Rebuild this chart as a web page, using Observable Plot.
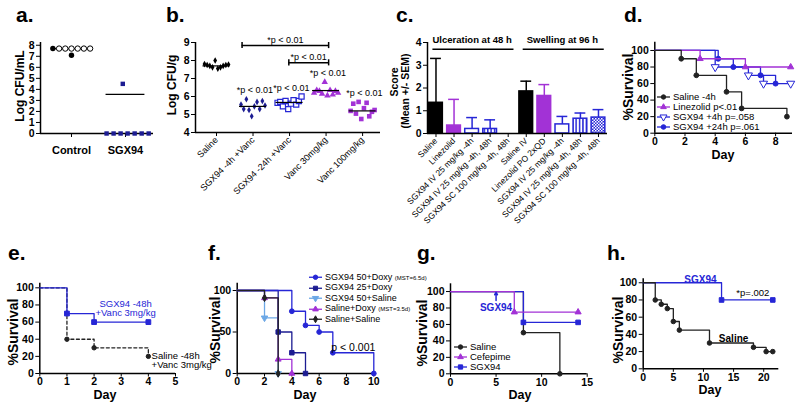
<!DOCTYPE html>
<html><head><meta charset="utf-8">
<script src="https://cdn.jsdelivr.net/npm/d3@7"></script>
<script src="https://cdn.jsdelivr.net/npm/@observablehq/plot@0.6"></script>
<style>
body{margin:0;background:#fff;}
#root{position:relative;width:800px;height:404px;overflow:hidden;background:#fff;font-family:'Liberation Sans',Arial,Helvetica,sans-serif;color:#000;}
.lbl{position:absolute;white-space:nowrap;line-height:1;}
</style></head><body><div id="root"></div>
<script>
// ---------------- DATA ----------------
// a.
const aGroups = ["Control", "SGX94"];
const aControl = [7.7, 7.7, 7.7, 7.7, 7.7, 7.7, 7.7, 7.1];
const aSGX94 = [0, 0, 0, 0, 0, 0, 0, 4.5];
const aLines = [7.7, 3.55];
// b.
const bGroups = ["Saline", "SGX94 -4h +Vanc", "SGX94 -24h +Vanc", "Vanc 30mg/kg", "Vanc 100mg/kg"];
const bSaline = [7.8, 7.75, 7.7, 7.62, 8.0, 7.55, 7.62, 7.7, 7.75, 7.78];
const bSgx4 = [5.55, 5.3, 5.85, 5.25, 4.9, 5.45, 5.7, 5.3, 5.75, 5.5];
const bSgx24 = [5.65, 5.7, 5.45, 5.75, 5.3, 5.6, 5.8, 5.55, 5.75, 6.0];
const bVanc30 = [6.2, 6.35, 6.3, 6.15, 6.8, 6.05, 6.35, 6.1, 6.3, 6.2];
const bVanc100 = [5.2, 5.6, 5.05, 5.7, 4.75, 5.35, 5.65, 4.9, 5.15, 5.25];
const bMedians = [7.7, 5.45, 5.67, 6.33, 5.2];
const bSigY = [null, 6.33, 6.48, 7.3, 6.18];
const bBrackets = [[0.7, 3.07, 8.83], [1.98, 3.07, 7.87]];
const bSigText = "*p < 0.01";
// c.
const cLabels = ["Saline", "Linezolid", "SGX94 IV 25 mg/kg -4h", "SGX94 IV 25 mg/kg -4h, 48h", "SGX94 SC 100 mg/kg -4h, 48h",
  "Saline IV", "Linezolid PO 2xQD", "SGX94 IV 25 mg/kg -4h", "SGX94 IV 25 mg/kg -4h, 48h", "SGX94 SC 100 mg/kg -4h, 48h"];
const cMean = [1.35, 0.35, 0.2, 0.2, 0, 1.85, 1.65, 0.4, 0.65, 0.7];
const cSEM = [1.95, 1.15, 0.5, 0.4, 0, 0.45, 0.5, 0.35, 0.25, 0.35];
const cSections = [["Ulceration at 48 h", 0, 4], ["Swelling at 96 h", 5, 9]];
// d.
const dSaline = [[0, 100], [1.75, 90], [2.75, 70], [4.75, 50], [5.75, 30], [8.75, 20]];
const dLinezolid = [[0, 100], [3, 90], [6, 80], [9, 80]];
const dSgx4 = [[0, 100], [4, 80], [6.2, 70], [7.2, 60], [9, 60]];
const dSgx24 = [[0, 100], [4.2, 90], [5.2, 80], [7, 70], [8, 60]];
const dNames = ["Saline -4h", "Linezolid p<.01", "SGX94 +4h p=.058", "SGX94 +24h p=.061"];
// e.
const eSgx = [[0, 100], [1, 70], [2, 60], [4, 60]];
const eSaline = [[0, 100], [1, 40], [2, 30], [4, 20]];
const eNotes = [["SGX94 -48h\n+Vanc 3mg/kg", 3.16, 76], ["Saline -48h\n+Vanc 3mg/kg", 4.12, 15.5]];
// f.
const fSgx50Doxy = [[0, 100], [4, 75], [5, 58], [6, 50], [7, 25], [10, 0]];
const fSgx25Doxy = [[0, 100], [3, 50], [4, 25], [5, 0]];
const fSgx50Saline = [[0, 100], [2, 67], [3, 0]];
const fSalineDoxy = [[0, 100], [2, 91], [3, 17], [4, 0]];
const fSalineSaline = [[0, 100], [2, 91], [3, 0]];
const fNames = ["SGX94 50+Doxy <span style='font-size:6px'>(MST=6.5d)</span>", "SGX94 25+Doxy", "SGX94 50+Saline",
  "Saline+Doxy <span style='font-size:6px'>(MST=3.5d)</span>", "Saline+Saline"];
const fNote = ["p < 0.001", 8.5, 31];
// g.
const gSaline = [[0, 100], [8, 50], [12, 0]];
const gCefepime = [[0, 100], [7, 75], [14, 75]];
const gSgx = [[0, 100], [8, 62.5], [14, 62.5]];
const gNames = ["Saline", "Cefepime", "SGX94"];
const gArrow = [{x: 5, y1: 89, y2: 99, text: "SGX94", ty: 80.5}];
// h.
const hSgx = [[0, 100], [13, 80], [21.5, 80]];
const hSaline = [[0, 100], [2, 80], [3, 75], [4, 70], [5, 55], [6, 45], [11, 30], [18.3, 25], [20.4, 20], [21.5, 20]];
const hNotes = [["SGX94", 9.5, 103.5], ["*p=.002", 18.2, 88], ["Saline", 15, 35]];

// ---------------- STYLE / HELPERS ----------------
const FONT = "'Liberation Sans', Arial, Helvetica, sans-serif";
const NARROW = "'Liberation Sans Narrow', 'Arial Narrow', 'Liberation Sans', Arial, sans-serif";
const BLUE = "#2626d6", NAVY = "#1c1c92", PURPLE = "#a232d6", LIGHT = "#6ca8e6", DARK = "#222";
const root = document.getElementById("root");
const sqrt3 = Math.sqrt(3);
const triangleDown = {draw(c, size) { const y = -Math.sqrt(size / (sqrt3 * 3)); c.moveTo(0, -y * 2); c.lineTo(-sqrt3 * y, y); c.lineTo(sqrt3 * y, y); c.closePath(); }};
const X = d => d[0], Y = d => d[1];
const intFmt = d3.format("d");

function mk(box, frame, opts) {
  const [L, T, W, H] = box, [x0, y0, x1, y1] = frame;
  const svg = Plot.plot({width: W, height: H, marginLeft: x0 - L, marginTop: y0 - T, marginRight: L + W - x1, marginBottom: T + H - y1, ...opts});
  Object.assign(svg.style, {position: "absolute", left: L + "px", top: T + "px", overflow: "visible", background: "transparent",
    maxWidth: "none", fontFamily: FONT, fontSize: "10.5px", fontWeight: "bold", color: "#000"});
  root.appendChild(svg);
  return svg;
}
function fontAxis(svg, axis, size, weight) {
  svg.querySelectorAll(`[aria-label^="${axis}-axis"] text`).forEach(t => { t.style.fontSize = size + "px"; t.style.fontWeight = weight; });
}
function label(text, x, y, size, opts = {}) {
  const d = document.createElement("div");
  d.className = "lbl"; d.textContent = text;
  Object.assign(d.style, {left: x + "px", top: y + "px", fontSize: size + "px", fontWeight: opts.weight || "bold", color: opts.color || "#000",
    transform: opts.letter ? "none" : `translate(-50%,-50%)${opts.rotate ? " rotate(-90deg)" : ""}`});
  root.appendChild(d);
}
function legend(left, top, rowH, items, size) {
  const box = document.createElement("div");
  Object.assign(box.style, {position: "absolute", left: left + "px", top: top + "px", fontSize: size + "px", lineHeight: "1", whiteSpace: "nowrap", fontFamily: NARROW});
  for (const it of items) {
    const row = document.createElement("div");
    Object.assign(row.style, {display: "flex", alignItems: "center", height: rowH + "px"});
    const w = 13, h = rowH;
    const s = d3.create("svg").attr("width", w).attr("height", h).style("flex", "none").style("overflow", "visible");
    s.append("line").attr("x1", 0).attr("x2", w).attr("y1", h / 2).attr("y2", h / 2).attr("stroke", it.color).attr("stroke-width", 1.3);
    s.append("path").attr("d", d3.symbol(it.symbol, Math.PI * it.r * it.r)()).attr("transform", `translate(${w / 2},${h / 2})`)
      .attr("fill", it.open ? "#fff" : it.color).attr("stroke", it.color);
    row.appendChild(s.node());
    const t = document.createElement("span"); t.innerHTML = it.label; t.style.marginLeft = "3px";
    row.appendChild(t);
    box.appendChild(row);
  }
  root.appendChild(box);
}
function survival(box, frame, {xDomain, xTicks, yDomain, yTicks, series, extra = []}) {
  const marks = [
    Plot.ruleX([xDomain[0]], {stroke: "#000", strokeWidth: 1.5}),
    Plot.ruleY([0], {stroke: "#000", strokeWidth: 1.5})
  ];
  for (const s of series) {
    marks.push(Plot.line(s.data, {x: X, y: Y, curve: "step-after", stroke: s.color, strokeWidth: 1.3, strokeDasharray: s.dash}));
    marks.push(Plot.dot(s.data.slice(1), {x: X, y: Y, symbol: s.symbol, r: s.r, fill: s.open ? "#fff" : s.color, stroke: s.color, strokeWidth: 1}));
  }
  const svg = mk(box, frame, {
    x: {domain: xDomain, ticks: xTicks, tickFormat: intFmt, tickSize: 3.5, tickPadding: 1, label: null},
    y: {domain: yDomain, ticks: yTicks, tickFormat: intFmt, tickSize: 4, tickPadding: 2, label: null},
    marks: [...marks, ...extra]
  });
  fontAxis(svg, "x", 10.5, "bold"); fontAxis(svg, "y", 10.5, "bold");
  return svg;
}

// ---------------- PANEL a ----------------
{
  const pts = [];
  const spread = (n, i, step) => (i - (n - 1) / 2) * step;
  aControl.forEach((v, i) => pts.push({g: 0, v, dx: i < 7 ? spread(7, i, 0.115) : 0, filled: i === 0 || i === 7}));
  aSGX94.forEach((v, i) => pts.push({g: 1, v, dx: i < 7 ? spread(7, i, 0.13) + 0.04 : -0.05, filled: true}));
  const xd = [-0.574, 1.519];
  const svg = mk([0, 30, 165, 140], [40, 42, 153, 133], {
    x: {domain: xd, ticks: [0, 1], tickFormat: i => aGroups[i], tickSize: 4, tickPadding: 9, label: null},
    y: {domain: [0, 8.25], ticks: d3.range(9), tickFormat: intFmt, tickSize: 4, tickPadding: 2, label: null},
    marks: [
      Plot.ruleY(aLines.map((v, g) => ({g, v})), {y: "v", x1: d => d.g - 0.36, x2: d => d.g + 0.36, stroke: "#000", strokeWidth: 1.2}),
      Plot.ruleX([xd[0]], {stroke: "#000", strokeWidth: 1.5}),
      Plot.ruleY([0], {stroke: "#000", strokeWidth: 1.5}),
      Plot.dot(pts.filter(d => d.g === 0 && !d.filled), {x: d => d.g + d.dx, y: "v", r: 2.7, fill: "#fff", stroke: "#000", strokeWidth: 1}),
      Plot.dot(pts.filter(d => d.g === 0 && d.filled), {x: d => d.g + d.dx, y: "v", r: 2.7, fill: "#000"}),
      Plot.dot(pts.filter(d => d.g === 1), {x: d => d.g + d.dx, y: "v", r: 2.5, symbol: "square", fill: NAVY})
    ]
  });
  fontAxis(svg, "x", 11, "bold"); fontAxis(svg, "y", 10.5, "bold");
  label("a.", 16, 4, 21, {letter: true});
  label("Log CFU/mL", 20, 86, 12, {rotate: true});
}

// ---------------- PANEL b ----------------
{
  const series = [bSaline, bSgx4, bSgx24, bVanc30, bVanc100];
  const pts = series.flatMap((vals, g) => vals.map((v, i) => ({g, v, x: g + (i - (vals.length - 1) / 2) * 0.073})));
  const xd = [-0.575, 4.49];
  const sig = bSigY.map((y, g) => ({g, y})).filter(d => d.y != null);
  const br = bBrackets.map(([x1, x2, y]) => ({x1, x2, y}));
  const svg = mk([150, 30, 240, 180], [195, 42, 380, 132], {
    x: {domain: xd, ticks: d3.range(5), tickFormat: i => bGroups[i], tickSize: 4, tickPadding: 2, tickRotate: -45, label: null},
    y: {domain: [4, 9], ticks: d3.range(4, 10), tickFormat: intFmt, tickSize: 4, tickPadding: 2, label: null},
    marks: [
      Plot.ruleX([xd[0]], {stroke: "#000", strokeWidth: 1.5}),
      Plot.ruleY([4], {stroke: "#000", strokeWidth: 1.5}),
      Plot.dot(pts.filter(d => d.g === 0), {x: "x", y: "v", symbol: "diamond", r: 2.0, fill: "#000"}),
      Plot.dot(pts.filter(d => d.g === 1), {x: "x", y: "v", symbol: "diamond", r: 2.0, fill: NAVY}),
      Plot.dot(pts.filter(d => d.g === 2), {x: "x", y: "v", symbol: "square", r: 2.9, fill: "#fff", stroke: BLUE, strokeWidth: 1.2}),
      Plot.dot(pts.filter(d => d.g === 3), {x: "x", y: "v", symbol: "triangle", r: 2.4, fill: PURPLE}),
      Plot.dot(pts.filter(d => d.g === 4), {x: "x", y: "v", symbol: "square", r: 2.6, fill: PURPLE}),
      Plot.ruleY(bMedians.map((v, g) => ({g, v})), {y: "v", x1: d => d.g - 0.37, x2: d => d.g + 0.37, stroke: "#000", strokeWidth: 1.2}),
      Plot.text(sig, {x: d => d.g + 0.05, y: "y", text: () => bSigText, fontSize: 9, fontWeight: "normal", fontFamily: NARROW, fill: "#000"}),
      Plot.ruleY(br, {y: "y", x1: "x1", x2: "x2", stroke: "#000", strokeWidth: 1.5}),
      Plot.ruleX(br, {x: "x1", y1: d => d.y - 0.17, y2: d => d.y + 0.17, stroke: "#000", strokeWidth: 1.5}),
      Plot.ruleX(br, {x: "x2", y1: d => d.y - 0.17, y2: d => d.y + 0.17, stroke: "#000", strokeWidth: 1.5}),
      Plot.text(br, {x: d => (d.x1 + d.x2) / 2, y: d => d.y + 0.33, text: () => bSigText, fontSize: 9, fontWeight: "normal", fontFamily: NARROW, fill: "#000"})
    ]
  });
  fontAxis(svg, "x", 9, "normal"); fontAxis(svg, "y", 10.5, "bold");
  label("b.", 166, 4, 21, {letter: true});
  label("Log CFU/g", 172, 85, 12, {rotate: true});
}

// ---------------- PANEL c ----------------
{
  const table = cLabels.map((lab, i) => ({i, lab, mean: cMean[i], sem: cSEM[i]}));
  const shown = table.filter(d => d.mean > 0);
  const kind = i => ["black", "purple", "open", "stripes", "checks"][i % 5];
  const fillOf = {black: "#000", purple: PURPLE, open: "#fff", stripes: "url(#cStripes)", checks: "url(#cChecks)"};
  const strokeOf = {black: "#000", purple: PURPLE, open: BLUE, stripes: BLUE, checks: BLUE};
  const xd = [-0.47, 9.5];
  const secs = cSections.map(([text, from, to]) => ({text, from, to}));
  const svg = mk([385, 25, 225, 200], [427, 42, 607, 133], {
    color: {type: "identity"},
    x: {domain: xd, ticks: d3.range(10), tickFormat: i => cLabels[i], tickSize: 4, tickPadding: 2, tickRotate: -45, label: null},
    y: {domain: [0, 4], ticks: d3.range(5), tickFormat: intFmt, tickSize: 4, tickPadding: 2, label: null},
    marks: [
      Plot.rectY(shown, {x1: d => d.i - 0.38, x2: d => d.i + 0.38, y1: 0, y2: "mean", fill: d => fillOf[kind(d.i)], stroke: d => strokeOf[kind(d.i)], strokeWidth: 1.5}),
      Plot.ruleX(shown, {x: "i", y1: "mean", y2: d => d.mean + d.sem, stroke: d => strokeOf[kind(d.i)], strokeWidth: 1.5}),
      Plot.ruleY(shown, {y: d => d.mean + d.sem, x1: d => d.i - 0.3, x2: d => d.i + 0.3, stroke: d => strokeOf[kind(d.i)], strokeWidth: 1.5}),
      Plot.ruleX([xd[0]], {stroke: "#000", strokeWidth: 1.5}),
      Plot.ruleY([0], {stroke: "#000", strokeWidth: 1.5}),
      Plot.ruleY(secs, {y: 3.7, x1: d => d.from - 0.17, x2: d => d.to + 0.32, stroke: "#000", strokeWidth: 1.5}),
      Plot.text(secs, {x: d => (d.from + d.to) / 2, y: 4.12, text: "text", fontSize: 9.5, fontWeight: "bold", fill: "#000"})
    ]
  });
  svg.insertAdjacentHTML("afterbegin", `<defs>
    <pattern id="cStripes" patternUnits="userSpaceOnUse" width="3.4" height="6"><rect width="3.4" height="6" fill="#fff"/><rect width="1.5" height="6" fill="${BLUE}"/></pattern>
    <pattern id="cChecks" patternUnits="userSpaceOnUse" width="3" height="3"><rect width="3" height="3" fill="${BLUE}"/><rect width="1.5" height="1.5" fill="#fff"/><rect x="1.5" y="1.5" width="1.5" height="1.5" fill="#fff"/></pattern></defs>`);
  fontAxis(svg, "x", 8.5, "normal"); fontAxis(svg, "y", 10.5, "bold");
  label("c.", 396, 4, 21, {letter: true});
  label("Score", 394, 82, 10.5, {rotate: true});
  label("(Mean +/- SEM)", 405, 91, 10.5, {rotate: true});
}

// ---------------- PANEL d ----------------
{
  const S = [
    {data: dSgx4, color: BLUE, symbol: triangleDown, open: true, r: 3},
    {data: dSgx24, color: BLUE, symbol: d3.symbolCircle, r: 2.5},
    {data: dLinezolid, color: PURPLE, symbol: d3.symbolTriangle, r: 2.3},
    {data: dSaline, color: DARK, symbol: d3.symbolCircle, r: 2.4}
  ];
  survival([615, 25, 185, 150], [654.3, 41.7, 792, 132.7], {xDomain: [0, 9.12], xTicks: [0, 2, 4, 6, 8], yDomain: [0, 110], yTicks: d3.range(0, 101, 20), series: S});
  legend(657, 92, 10, [
    {label: dNames[0], color: DARK, symbol: d3.symbolCircle, r: 2.2},
    {label: dNames[1], color: PURPLE, symbol: d3.symbolTriangle, r: 2.1},
    {label: dNames[2], color: BLUE, symbol: triangleDown, r: 2.6, open: true},
    {label: dNames[3], color: BLUE, symbol: d3.symbolCircle, r: 2.3}
  ], 9.5);
  label("d.", 624, 4, 21, {letter: true});
  label("%Survival", 628, 87, 14, {rotate: true});
  label("Day", 723, 155, 12.5);
}

// ---------------- PANEL e ----------------
{
  const S = [
    {data: eSaline, color: DARK, dash: "3,2.5", symbol: d3.symbolCircle, r: 2.2},
    {data: eSgx, color: BLUE, symbol: d3.symbolSquare, r: 2.7}
  ];
  const notes = eNotes.map(([text, x, y], k) => ({text, x, y, color: k === 0 ? BLUE : "#000", anchor: k === 0 ? "middle" : "start"}));
  survival([0, 265, 200, 139], [39.3, 282.7, 175, 373], {xDomain: [0, 5], xTicks: d3.range(6), yDomain: [0, 105.4], yTicks: d3.range(0, 101, 20), series: S,
    extra: [
      Plot.text(notes.filter(d => d.anchor === "middle"), {x: "x", y: "y", text: "text", fill: "color", fontSize: 9.5, fontWeight: "normal", fontFamily: NARROW, lineAnchor: "middle"}),
      Plot.text(notes.filter(d => d.anchor === "start"), {x: "x", y: "y", text: "text", fill: "color", fontSize: 9.5, fontWeight: "normal", fontFamily: NARROW, lineAnchor: "middle", textAnchor: "start"})
    ]});
  label("e.", 8, 242, 21, {letter: true});
  label("%Survival", 13, 332, 14, {rotate: true});
  label("Day", 105, 394.5, 12.5);
}

// ---------------- PANEL f ----------------
{
  const S = [
    {data: fSgx50Saline, color: LIGHT, symbol: triangleDown, r: 2.4},
    {data: fSalineDoxy, color: PURPLE, symbol: d3.symbolTriangle, r: 2.2},
    {data: fSgx25Doxy, color: NAVY, symbol: d3.symbolSquare, r: 2.5},
    {data: fSgx50Doxy, color: BLUE, symbol: d3.symbolCircle, r: 2.4},
    {data: fSalineSaline, color: DARK, symbol: d3.symbolDiamond, r: 2.2}
  ];
  survival([200, 265, 200, 139], [236.7, 282.7, 373.3, 373], {xDomain: [0, 10], xTicks: d3.range(0, 11, 2), yDomain: [0, 108.8], yTicks: [0, 50, 100], series: S,
    extra: [Plot.text([fNote], {x: d => d[1], y: d => d[2], text: d => d[0], fontSize: 10.5, fontWeight: "normal", fontFamily: NARROW, fill: "#000"})]});
  legend(309, 272, 10.5, [
    {label: fNames[0], color: BLUE, symbol: d3.symbolCircle, r: 2.2},
    {label: fNames[1], color: NAVY, symbol: d3.symbolSquare, r: 2.3},
    {label: fNames[2], color: LIGHT, symbol: triangleDown, r: 2.3},
    {label: fNames[3], color: PURPLE, symbol: d3.symbolTriangle, r: 2.1},
    {label: fNames[4], color: DARK, symbol: d3.symbolDiamond, r: 2.1}
  ], 9);
  label("f.", 208, 242, 21, {letter: true});
  label("%Survival", 215, 330, 14, {rotate: true});
  label("Day", 305, 394.5, 12.5);
}

// ---------------- PANEL g ----------------
{
  const S = [
    {data: gSaline, color: DARK, symbol: d3.symbolCircle, r: 2.3},
    {data: gSgx, color: BLUE, symbol: d3.symbolSquare, r: 2.6},
    {data: gCefepime, color: PURPLE, symbol: d3.symbolTriangle, r: 2.3}
  ];
  survival([400, 265, 200, 139], [450, 283.3, 586.7, 373.3], {xDomain: [0, 15], xTicks: [0, 5, 10, 15], yDomain: [0, 109.4], yTicks: d3.range(0, 101, 20), series: S,
    extra: [
      Plot.arrow(gArrow, {x1: "x", x2: "x", y1: "y1", y2: "y2", stroke: BLUE, strokeWidth: 1.5, headLength: 6}),
      Plot.text(gArrow, {x: "x", y: "ty", text: "text", fill: BLUE, fontSize: 10, fontWeight: "bold"})
    ]});
  legend(454, 342, 10, [
    {label: gNames[0], color: DARK, symbol: d3.symbolCircle, r: 2.2},
    {label: gNames[1], color: PURPLE, symbol: d3.symbolTriangle, r: 2.1},
    {label: gNames[2], color: BLUE, symbol: d3.symbolSquare, r: 2.4}
  ], 9.5);
  label("g.", 417, 242, 21, {letter: true});
  label("%Survival", 422, 333, 14, {rotate: true});
  label("Day", 520, 394.5, 12.5);
}

// ---------------- PANEL h ----------------
{
  const S = [
    {data: hSgx, color: BLUE, symbol: d3.symbolSquare, r: 2.6},
    {data: hSaline, color: DARK, symbol: d3.symbolCircle, r: 2.3}
  ];
  const notes = hNotes.map(([text, x, y], k) => ({text, x, y, color: k === 0 ? BLUE : "#000", weight: k === 1 ? "normal" : "bold"}));
  survival([600, 260, 200, 144], [642.7, 278.3, 778.3, 368.3], {xDomain: [0, 22.5], xTicks: [0, 5, 10, 15, 20], yDomain: [0, 104.6], yTicks: d3.range(0, 101, 20), series: S,
    extra: [
      Plot.text(notes.filter(d => d.weight === "bold"), {x: "x", y: "y", text: "text", fill: "color", fontSize: 10, fontWeight: "bold"}),
      Plot.text(notes.filter(d => d.weight !== "bold"), {x: "x", y: "y", text: "text", fill: "color", fontSize: 9.5, fontWeight: "normal", fontFamily: NARROW})
    ]});
  label("h.", 607, 242, 21, {letter: true});
  label("%Survival", 618, 330, 14, {rotate: true});
  label("Day", 710, 390, 12.5);
}
</script></body></html>
